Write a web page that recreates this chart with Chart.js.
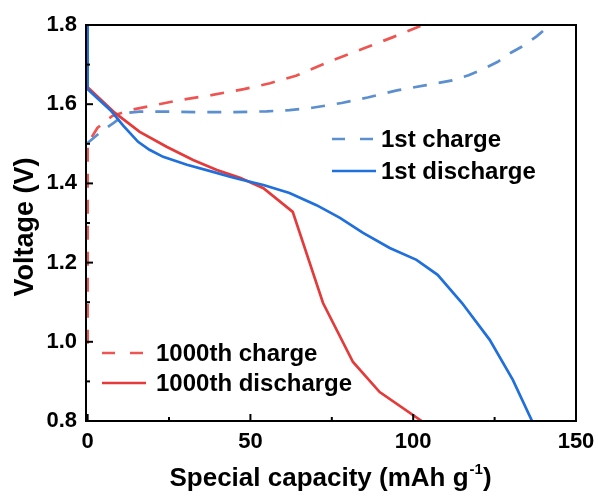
<!DOCTYPE html>
<html><head><meta charset="utf-8">
<script src="https://cdn.jsdelivr.net/npm/chart.js@4/dist/chart.umd.min.js"></script>
<style>html,body{margin:0;padding:0;background:#fff}#wrap{width:598px;height:499px}</style>
</head><body><div id="wrap"><canvas id="c" width="598" height="499"></canvas></div>
<script>
// ---- data ----
const charge1X = [0, 4, 8, 12, 16, 25, 35, 45, 55, 62, 69, 78, 86, 95, 104, 112, 117, 121, 126, 130, 134, 138, 142];
const charge1Y = [1.502, 1.53, 1.553, 1.578, 1.581, 1.581, 1.580, 1.580, 1.582, 1.585, 1.591, 1.603, 1.617, 1.635, 1.648, 1.66, 1.673, 1.687, 1.707, 1.73, 1.748, 1.772, 1.8];

const discharge1X = [0, 0, 3, 7, 11, 15.5, 19, 23.2, 30.5, 38.5, 44, 47, 54, 62, 70.3, 77.5, 84.6, 92.8, 101, 107.5, 115, 123.5, 130.6, 136.5];
const discharge1Y = [1.8, 1.638, 1.615, 1.585, 1.545, 1.505, 1.485, 1.467, 1.447, 1.429, 1.416, 1.41, 1.396, 1.376, 1.345, 1.313, 1.275, 1.237, 1.207, 1.169, 1.098, 1.005, 0.904, 0.8];

const charge1000X = [0, 0, 3, 7.5, 13, 19, 28, 38, 48, 56, 64, 68, 75, 84.5, 94, 103];
const charge1000Y = [0.995, 1.5, 1.54, 1.57, 1.585, 1.595, 1.61, 1.623, 1.638, 1.653, 1.672, 1.686, 1.71, 1.74, 1.77, 1.8];

const discharge1000X = [0, 8.4, 16, 24.4, 32.4, 39.7, 46.8, 54, 63, 72.3, 81.5, 89.7, 102.6];
const discharge1000Y = [1.643, 1.578, 1.53, 1.492, 1.459, 1.434, 1.414, 1.388, 1.328, 1.098, 0.949, 0.873, 0.8];

const seriesNames = ['1st charge', '1st discharge', '1000th charge', '1000th discharge'];
const xMajorTicks = [0, 50, 100, 150];
const xMinorTicks = [25, 75, 125];
const yMajorTicks = [0.8, 1.0, 1.2, 1.4, 1.6, 1.8];
const yMinorTicks = [0.9, 1.1, 1.3, 1.5, 1.7];
const xTitle = 'Special capacity (mAh g';
const xTitleSup = '-1';
const yTitle = 'Voltage (V)';

const toPts = (xs, ys) => xs.map((v, i) => ({x: v, y: ys[i]}));
const FONT = '"Liberation Sans", Arial, sans-serif';

const BLUE_D = '#5b8fcf', BLUE = '#1f6fdd', RED_D = '#ee5552', RED = '#e53a3a';

const datasets = [
  {label: seriesNames[0], data: toPts(charge1X, charge1Y), borderColor: BLUE_D, borderDash: [14, 12], order: 2},
  {label: seriesNames[1], data: toPts(discharge1X, discharge1Y), borderColor: BLUE, borderDash: [], order: 0},
  {label: seriesNames[2], data: toPts(charge1000X, charge1000Y), borderColor: RED_D, borderDash: [14, 12], order: 3},
  {label: seriesNames[3], data: toPts(discharge1000X, discharge1000Y), borderColor: RED, borderDash: [], order: 1},
].map(d => Object.assign(d, {borderWidth: 2.7, pointRadius: 0, tension: 0, fill: false}));

const legendItems = [
  {ds: 0, x0: 332, x1: 376, tx: 381, ty: 139},
  {ds: 1, x0: 332, x1: 376, tx: 381, ty: 171},
  {ds: 2, x0: 102, x1: 146, tx: 156, ty: 353},
  {ds: 3, x0: 102, x1: 146, tx: 156, ty: 383},
];

const decor = {
  id: 'decor',
  afterDraw(chart) {
    const {ctx, chartArea: a, scales: {x, y}} = chart;
    ctx.save();
    ctx.strokeStyle = '#000';
    ctx.lineWidth = 2;
    ctx.lineCap = 'butt';
    const tick = (x0, y0, x1, y1) => { ctx.beginPath(); ctx.moveTo(x0, y0); ctx.lineTo(x1, y1); ctx.stroke(); };
    xMajorTicks.forEach(v => { const p = x.getPixelForValue(v); tick(p, a.bottom, p, a.bottom - 7); });
    xMinorTicks.forEach(v => { const p = x.getPixelForValue(v); tick(p, a.bottom, p, a.bottom - 4); });
    yMajorTicks.forEach(v => { const p = y.getPixelForValue(v); tick(a.left, p, a.left + 7, p); });
    yMinorTicks.forEach(v => { const p = y.getPixelForValue(v); tick(a.left, p, a.left + 4, p); });
    ctx.strokeRect(a.left, a.top, a.right - a.left, a.bottom - a.top);

    ctx.font = 'bold 24px ' + FONT;
    ctx.textBaseline = 'middle';
    ctx.textAlign = 'left';
    legendItems.forEach(it => {
      const d = chart.data.datasets[it.ds];
      ctx.save();
      ctx.strokeStyle = d.borderColor;
      ctx.lineWidth = 2.7;
      ctx.setLineDash(d.borderDash.length ? [13, 15] : []);
      tick(it.x0, it.ty, it.x1, it.ty);
      ctx.restore();
      ctx.fillStyle = '#000';
      ctx.fillText(d.label, it.tx, it.ty + 1);
    });

    ctx.fillStyle = '#000';
    ctx.font = 'bold 26px ' + FONT;
    const w1 = ctx.measureText(xTitle).width;
    ctx.font = 'bold 15px ' + FONT;
    const w2 = ctx.measureText(xTitleSup).width;
    ctx.font = 'bold 26px ' + FONT;
    const w3 = ctx.measureText(')').width;
    const total = w1 + w2 + w3;
    const cx = 330;
    const sx = cx - total / 2;
    const by = 486;
    ctx.textBaseline = 'alphabetic';
    ctx.fillText(xTitle, sx, by);
    ctx.font = 'bold 15px ' + FONT;
    ctx.fillText(xTitleSup, sx + w1 + 1, by - 12);
    ctx.font = 'bold 26px ' + FONT;
    ctx.fillText(')', sx + w1 + w2 + 1, by);

    ctx.save();
    ctx.translate(26, 227);
    ctx.rotate(-Math.PI / 2);
    ctx.textAlign = 'center';
    ctx.textBaseline = 'middle';
    ctx.font = 'bold 27px ' + FONT;
    ctx.fillText(yTitle, 0, 0);
    ctx.restore();
    ctx.restore();
  }
};

new Chart(document.getElementById('c'), {
  type: 'line',
  data: {datasets},
  plugins: [decor],
  options: {
    responsive: false,
    animation: false,
    devicePixelRatio: 1,
    layout: {padding: {top: 25, right: 22, left: 0, bottom: 0}},
    plugins: {legend: {display: false}, tooltip: {enabled: false}},
    scales: {
      x: {
        type: 'linear', min: -0.5, max: 150,
        afterBuildTicks: s => { s.ticks = xMajorTicks.map(v => ({value: v})); },
        afterFit: s => { s.height = 78; s.paddingLeft = 0; s.paddingRight = 0; },
        grid: {display: true, drawOnChartArea: false, drawTicks: false},
        border: {display: false},
        ticks: {padding: 8, color: '#000', font: {family: FONT, weight: 'bold', size: 22}, maxRotation: 0}
      },
      y: {
        type: 'linear', min: 0.8, max: 1.8,
        afterBuildTicks: s => { s.ticks = yMajorTicks.map(v => ({value: v})); },
        afterFit: s => { s.width = 86; s.paddingTop = 0; s.paddingBottom = 0; },
        grid: {display: true, drawOnChartArea: false, drawTicks: false},
        border: {display: false},
        ticks: {padding: 9, color: '#000', font: {family: FONT, weight: 'bold', size: 22}, callback: v => v.toFixed(1)}
      }
    }
  }
});
</script>
</body></html>
